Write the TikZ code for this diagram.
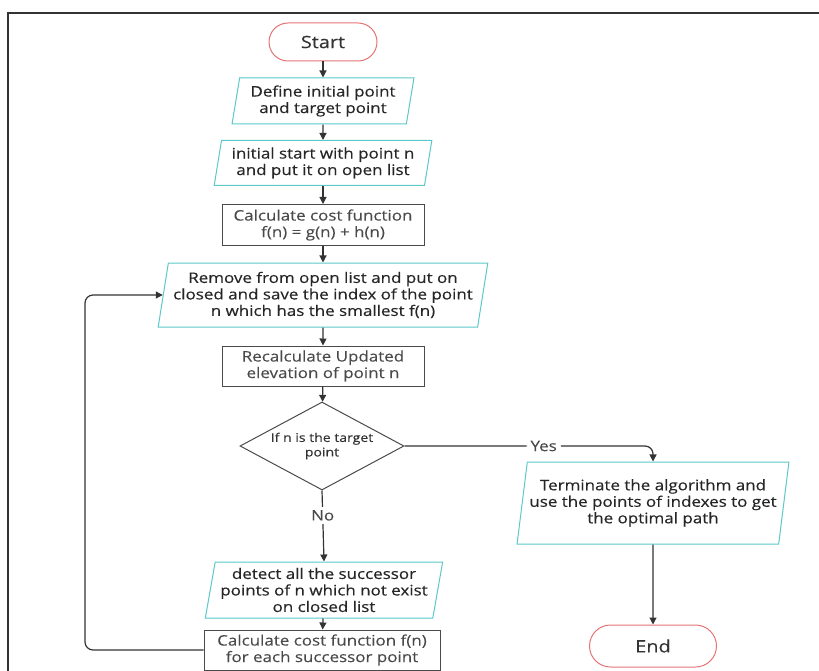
\documentclass[tikz,border=0pt]{standalone}
\usepackage{fontspec}
\setmainfont{Open Sans}
\newfontfamily\boxfont{Open Sans}[FakeStretch=1.17, FakeBold=0.15]
\newfontfamily\semifont{Open Sans}[FakeStretch=1.17, FakeBold=0.35]
\usetikzlibrary{shapes.geometric,arrows.meta}
\definecolor{termred}{HTML}{E57373}
\definecolor{ioteal}{HTML}{5CC8C8}
\definecolor{boxgray}{HTML}{4A4A4A}
\definecolor{linegray}{HTML}{333333}

\begin{document}
\begin{tikzpicture}[x=1pt, y=-1pt,
		every node/.style={font=\boxfont\fontsize{14.5}{16.5}\selectfont, align=center, inner sep=0pt, text=linegray},
		terminal/.style={draw=termred, rounded corners=19pt, minimum width=108pt, minimum height=38pt, line width=1pt, font=\semifont\fontsize{17}{20}\selectfont},
		iobox/.style={draw=ioteal, trapezium, trapezium left angle=78, trapezium right angle=102, trapezium stretches=true, line width=1pt, font=\semifont\fontsize{14.5}{16.5}\selectfont, text=black!85},
		procbox/.style={draw=boxgray, rectangle, minimum width=202pt, minimum height=41pt, line width=1pt, text=boxgray},
		decision/.style={draw=boxgray, diamond, aspect=1.9, minimum width=164pt, minimum height=88pt, line width=1pt, font=\boxfont\fontsize{12}{14.5}\selectfont},
		flow/.style={draw=linegray, line width=1.2pt, -{Triangle[length=7pt, width=7pt]}},
		answer/.style={fill=white, inner xsep=4pt, text=boxgray}]
		\useasboundingbox (0,0) rectangle (819,671);
		\draw[linegray, line width=1.5pt] (8,671) -- (8,13) -- (819,13);
		\node (start) [terminal] at (323,42) {Start};
		\node (define) [iobox, minimum width=182pt, minimum height=46pt] at (323,101) {Define initial point\\and target point};
		\node (init) [iobox, minimum width=218pt, minimum height=45pt] at (323,163) {initial start with point n\\and put it on open list};
		\node (cost) [procbox] at (323,225) {Calculate cost function\\f(n) = g(n) + h(n)};
		\node (remove) [iobox, minimum width=330pt, minimum height=64pt] at (323,295) {Remove from open list and put on\\closed and save the index of the point\\n which has the smallest f(n)};
		\node (recalc) [procbox, minimum height=40pt] at (323,366) {Recalculate Updated\\elevation of point n};
		\node (target) [decision] at (322,446) {If n is the target\\point};
		\node (terminate) [iobox, minimum width=273pt, minimum height=82pt] at (653,503) {Terminate the algorithm and\\use the points of indexes to get\\the optimal path};
		\node (end) [terminal, minimum width=127pt, minimum height=42pt, rounded corners=21pt] at (653,646) {End};
		\node (detect) [iobox, minimum width=238pt, minimum height=56pt] at (324,590) {detect all the successor\\points of n which not exist\\on closed list};
		\node (succ) [procbox, minimum width=236pt, minimum height=40pt] at (322,650) {Calculate cost function f(n)\\for each successor point};
		\coordinate (loop) at (85,0);
		\draw[flow] (start) -- (define);
		\draw[flow] (define) -- (init);
		\draw[flow] (init) -- (cost);
		\draw[flow] (cost) -- (remove);
		\draw[flow] (remove) -- (recalc);
		\draw[flow] (recalc) -- (target);
		\draw[flow, rounded corners=8pt] (target.east) -- node[answer, pos=0.56] {Yes} (target.east -| terminate.north) -- (terminate.north);
		\draw[flow] (terminate) -- (end);
		\draw[flow] (target.south) -- node[answer, pos=0.35, inner ysep=3pt] {No} (detect.north);
		\draw[flow] (detect) -- (succ);
		\draw[flow, rounded corners=8pt] (succ.west) -- (succ.west -| loop) |- (remove.west);
	\end{tikzpicture}
\end{document}
